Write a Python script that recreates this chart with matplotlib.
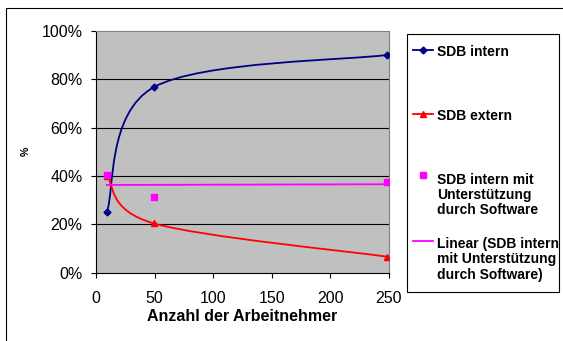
import numpy as np
import matplotlib
matplotlib.use('Agg')
import matplotlib.pyplot as plt
from matplotlib.path import Path
from matplotlib.patches import PathPatch, Rectangle
from matplotlib.lines import Line2D

plt.rcParams['font.family'] = ['Liberation Sans', 'DejaVu Sans']

# ========== Daten ==========
arbeitnehmer = [9, 49, 249]
sdb_intern = [25.0, 76.6, 90.0]
sdb_extern = [40.1, 20.4, 6.6]
sdb_software = [40.5, 31.2, 37.4]

x_ticks = [0, 50, 100, 150, 200, 250]
y_ticks = [0, 20, 40, 60, 80, 100]
y_ticklabels = ['0%', '20%', '40%', '60%', '80%', '100%']

labels = ['SDB intern', 'SDB extern',
          'SDB intern mit\nUnterstützung\ndurch Software',
          'Linear (SDB intern\nmit Unterstützung\ndurch Software)']

col_intern = '#000080'
col_extern = '#FF0000'
col_soft = '#FF00FF'


def smooth_path(xs, ys):
    # Excel-artige geglaettete Linie (Bezier durch die Datenpunkte)
    pts = np.column_stack([xs, ys]).astype(float)
    n = len(pts)
    verts = [pts[0]]
    codes = [Path.MOVETO]
    for i in range(n - 1):
        p0 = pts[i - 1] if i > 0 else pts[i]
        p1 = pts[i]
        p2 = pts[i + 1]
        p3 = pts[i + 2] if i + 2 < n else pts[i + 1]
        verts += [p1 + (p2 - p0) / 6, p2 - (p3 - p1) / 6, p2]
        codes += [Path.CURVE4] * 3
    return Path(verts, codes)


W, H = 563, 341
fig = plt.figure(figsize=(W / 100, H / 100), dpi=100)
fig.patch.set_facecolor('white')

ax = fig.add_axes([96.3 / W, 1 - 272.7 / H, 292.2 / W, 242.0 / H])
ax.set_facecolor('#C0C0C0')
ax.set_xlim(0, 250)
ax.set_ylim(0, 100)

for yv in y_ticks[1:-1]:
    ax.axhline(yv, color='black', linewidth=0.8, zorder=1)

# geglaettete Linien
ax.add_patch(PathPatch(smooth_path(arbeitnehmer, sdb_intern), fill=False,
                       edgecolor=col_intern, linewidth=1.3, zorder=3))
ax.add_patch(PathPatch(smooth_path(arbeitnehmer, sdb_extern), fill=False,
                       edgecolor=col_extern, linewidth=1.3, zorder=3))
ax.plot(arbeitnehmer, sdb_intern, linestyle='none', marker='D', markersize=3.5,
        color=col_intern, zorder=4)
ax.plot(arbeitnehmer, sdb_extern, linestyle='none', marker='^', markersize=5,
        color=col_extern, zorder=4)
ax.plot(arbeitnehmer, sdb_software, linestyle='none', marker='s', markersize=4,
        color=col_soft, zorder=4)

# lineare Trendlinie
k, d = np.polyfit(arbeitnehmer, sdb_software, 1)
tx = np.array([arbeitnehmer[0], arbeitnehmer[-1]])
ax.plot(tx, k * tx + d, color=col_soft, linewidth=1.3, zorder=3)

ax.set_xticks(x_ticks)
ax.set_yticks(y_ticks)
ax.set_yticklabels(y_ticklabels)
ax.tick_params(axis='both', direction='out', length=3.5, width=0.8,
               labelsize=11.5, color='black')
ax.tick_params(axis='x', pad=10)
ax.tick_params(axis='y', pad=6.5)
for s in ['top', 'right']:
    ax.spines[s].set_color('#808080')
    ax.spines[s].set_linewidth(0.8)
for s in ['left', 'bottom']:
    ax.spines[s].set_color('black')
    ax.spines[s].set_linewidth(0.8)

ax.set_xlabel('Anzahl der Arbeitnehmer', fontsize=11.5, fontweight='bold')
ax.xaxis.set_label_coords(0.5, -(309.3 - 272.7) / 242.0)
ax.set_ylabel('%', fontsize=7.5, fontweight='bold')
ax.yaxis.set_label_coords((31 - 96.3) / 292.2, 0.5)

# Rahmen des Diagramms
fig.add_artist(Rectangle((6 / W, -0.1), 1.2, 1 - 8 / H + 0.1, transform=fig.transFigure,
                         fill=False, edgecolor='black', linewidth=0.8))

# Legende
fig.add_artist(Rectangle((407.3 / W, 1 - 291.5 / H), 152 / W, 258 / H,
                         transform=fig.transFigure, facecolor='white',
                         edgecolor='black', linewidth=0.8))
hx0, hx1, tx0 = 412.7 / W, 433.3 / W, 436.7 / W
handles = [(50, 45, col_intern, 'D', 3.5, True),
           (114, 109, col_extern, '^', 5, True),
           (175, 172.7, col_soft, 's', 4, False),
           (241, 237.3, col_soft, None, 0, True)]
for (hy, ty, c, m, ms, line), lab in zip(handles, labels):
    yy = 1 - hy / H
    if line:
        fig.add_artist(Line2D([hx0, hx1], [yy, yy], transform=fig.transFigure,
                              color=c, linewidth=1.3))
    if m:
        fig.add_artist(Line2D([(hx0 + hx1) / 2], [yy], transform=fig.transFigure,
                              color=c, marker=m, markersize=ms, linestyle='none'))
    fig.text(tx0, 1 - ty / H, lab, fontsize=10, fontweight='bold',
             va='top', ha='left', linespacing=1.1)

fig.savefig('out.png', dpi=100)
